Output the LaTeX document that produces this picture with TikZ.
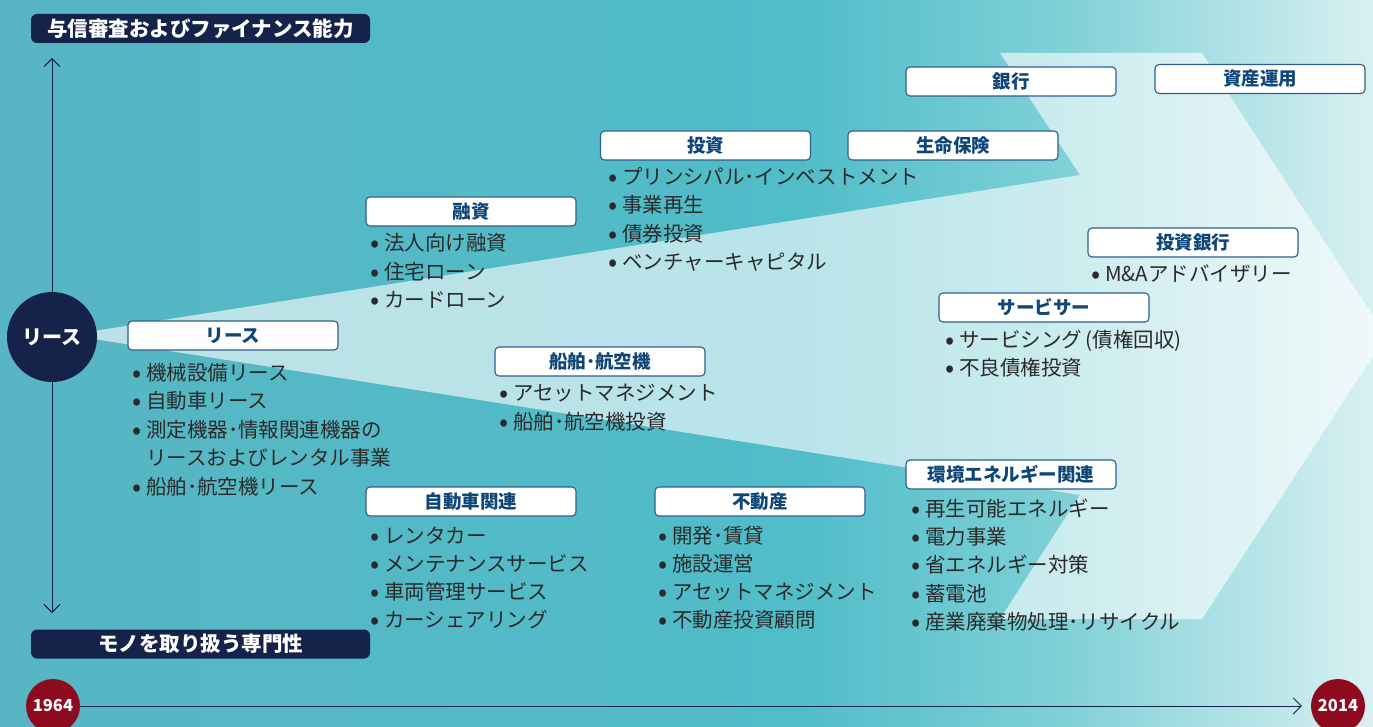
\documentclass[tikz,border=0pt]{standalone}
\usepackage{fontspec}
\setmainfont{Noto Sans CJK JP}
\usetikzlibrary{arrows.meta}
\definecolor{navy}{HTML}{15234A}
\definecolor{boxline}{HTML}{2E5E8C}
\definecolor{hdrtext}{HTML}{0E4677}
\definecolor{itemcol}{HTML}{2A2A2A}
\definecolor{yearred}{HTML}{8E0A1F}
\definecolor{bgA}{HTML}{58B5C3}
\definecolor{bgB}{HTML}{50BDC9}
\definecolor{bgC}{HTML}{7FD0D7}
\definecolor{bgD}{HTML}{D8F0F2}
\newcommand\bul{\makebox[12pt][l]{\hspace*{-1.5pt}\raisebox{-1.6pt}{\fontsize{27}{27}\selectfont •}}}
\newcommand\nobul{\hspace*{12pt}}
\begin{document}
\begin{tikzpicture}[x=1pt,y=-1pt,
 hdr/.style={draw=boxline, fill=white, rounded corners=4pt, line width=1.1pt, minimum width=210pt, minimum height=29pt, inner sep=0pt, text=hdrtext, font=\bfseries\fontsize{18.5}{20}\selectfont},
 itemtxt/.style={anchor=base west, inner sep=0pt, text=itemcol, font=\fontsize{20.5}{24}\selectfont},
 capbox/.style={fill=navy, rounded corners=6pt, minimum width=339pt, minimum height=29pt, inner sep=0pt, text=white, font=\bfseries\fontsize{20.5}{22}\selectfont},
 yearnode/.style={circle, fill=yearred, minimum size=54pt, inner sep=0pt, text=white, font=\bfseries\fontsize{16.5}{18}\selectfont},
 axline/.style={draw=navy, line width=0.9pt}
]
\useasboundingbox (0,0) rectangle (1373,727);
% background
\shade[left color=bgA, right color=bgB] (0,0) rectangle (801,727);
\shade[left color=bgB, right color=bgC] (800,0) rectangle (1061,727);
\shade[left color=bgC, right color=bgD] (1060,0) rectangle (1373,727);
% light wedge + chevron
\fill[white, opacity=0.6] (75,334) -- (1080,175) -- (1000,53) -- (1202,53) -- (1386,336) -- (1202,619) -- (1000,619) -- (1080,495) -- (75,336) -- cycle;

% axes
\coordinate (axtop) at (52,58);
\coordinate (axbot) at (52,613);
\draw[axline, {Straight Barb[length=8pt,width=16pt]}-{Straight Barb[length=8pt,width=16pt]}] (axtop) -- (axbot);

\node[capbox] (capfin) at (200.5,28.5) {与信審査およびファイナンス能力};
\node[capbox] (capmono) at (200.5,644) {モノを取り扱う専門性};

\node[circle, fill=navy, minimum size=90pt, inner sep=0pt, text=white, font=\bfseries\fontsize{20}{22}\selectfont] (leasec) at (52,337) {リース};

% timeline
\node[yearnode] (y1964) at (53,706) {1964};
\node[yearnode] (y2014) at (1338,706) {2014};
\draw[axline, -{Straight Barb[length=8pt,width=16pt]}, shorten >=9pt] (y1964) -- (y2014);

% header boxes
\node[hdr] (hLease) at (233,335.5) {リース};
\node[hdr] (hLoan) at (471,211.5) {融資};
\node[hdr] (hInv) at (705.5,145.5) {投資};
\node[hdr] (hLife) at (953,145.5) {生命保険};
\node[hdr] (hBank) at (1011,81.5) {銀行};
\node[hdr] (hAM) at (1260,79) {資産運用};
\node[hdr] (hIB) at (1193,242.5) {投資銀行};
\node[hdr] (hSvc) at (1044,307.5) {サービサー};
\node[hdr] (hShip) at (600,361.5) {船舶･航空機};
\node[hdr] (hAuto) at (471,501.5) {自動車関連};
\node[hdr] (hRE) at (760,501.5) {不動産};
\node[hdr] (hEnv) at (1011,474.5) {環境エネルギー関連};

% lists
\node[itemtxt] (l1) at (134,380.5) {\bul 機械設備リース};
\node[itemtxt] (l2) at (134,408.5) {\bul 自動車リース};
\node[itemtxt] (l3) at (134,437.5) {\bul 測定機器･情報関連機器の};
\node[itemtxt] (l4) at (134,465.5) {\nobul リースおよびレンタル事業};
\node[itemtxt] (l5) at (134,494.5) {\bul 船舶･航空機リース};

\node[itemtxt] (m1) at (372,250.5) {\bul 法人向け融資};
\node[itemtxt] (m2) at (372,279.5) {\bul 住宅ローン};
\node[itemtxt] (m3) at (372,307.5) {\bul カードローン};

\node[itemtxt] (i1) at (610,184.5) {\bul プリンシパル･インベストメント};
\node[itemtxt] (i2) at (610,212.5) {\bul 事業再生};
\node[itemtxt] (i3) at (610,241.5) {\bul 債券投資};
\node[itemtxt] (i4) at (610,269.5) {\bul ベンチャーキャピタル};

\node[itemtxt] (s1) at (501,400.5) {\bul アセットマネジメント};
\node[itemtxt] (s2) at (501,429.5) {\bul 船舶･航空機投資};

\node[itemtxt] (a1) at (372,543.5) {\bul レンタカー};
\node[itemtxt] (a2) at (372,571.5) {\bul メンテナンスサービス};
\node[itemtxt] (a3) at (372,599.5) {\bul 車両管理サービス};
\node[itemtxt] (a4) at (372,627.5) {\bul カーシェアリング};

\node[itemtxt] (r1) at (660,543.5) {\bul 開発･賃貸};
\node[itemtxt] (r2) at (660,571.5) {\bul 施設運営};
\node[itemtxt] (r3) at (660,599.5) {\bul アセットマネジメント};
\node[itemtxt] (r4) at (660,627.5) {\bul 不動産投資顧問};

\node[itemtxt] (e1) at (913,516.5) {\bul 再生可能エネルギー};
\node[itemtxt] (e2) at (913,544.5) {\bul 電力事業};
\node[itemtxt] (e3) at (913,572.5) {\bul 省エネルギー対策};
\node[itemtxt] (e4) at (913,601.5) {\bul 蓄電池};
\node[itemtxt] (e5) at (913,629.5) {\bul 産業廃棄物処理･リサイクル};

\node[itemtxt] (v1) at (947,347.5) {\bul サービシング\,(債権回収)};
\node[itemtxt] (v2) at (947,375.5) {\bul 不良債権投資};

\node[itemtxt] (b1) at (1093,281.5) {\bul M\&Aアドバイザリー};
\end{tikzpicture}
\end{document}
